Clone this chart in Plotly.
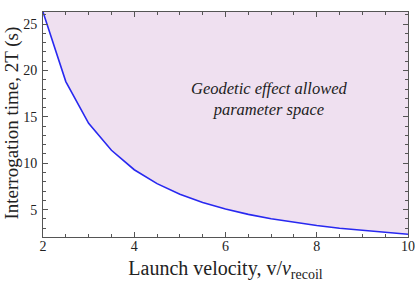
import plotly.graph_objects as go

velocity = [2, 2.5, 3, 3.5, 4, 4.5, 5, 5.5, 6, 6.5, 7, 7.5, 8, 8.5, 9, 9.5, 10]
interrogation_time = [26.3, 18.8, 14.3, 11.4, 9.3, 7.8, 6.65, 5.77, 5.06, 4.49,
                      4.02, 3.62, 3.29, 3.00, 2.76, 2.54, 2.35]
y_top = 26.3
top_line = [y_top] * len(velocity)

x_ticks = [2, 4, 6, 8, 10]
y_ticks = [5, 10, 15, 20, 25]

FONT = "Liberation Serif"
FRAME = "#555555"
TXT = "#222222"

fig = go.Figure()
fig.add_trace(go.Scatter(x=velocity, y=interrogation_time, mode="lines",
                         line=dict(color="rgba(0,0,0,0)", width=0), showlegend=False,
                         hoverinfo="skip"))
fig.add_trace(go.Scatter(x=velocity, y=top_line, mode="lines",
                         line=dict(color="rgba(0,0,0,0)", width=0),
                         fill="tonexty", fillcolor="#EFE0F0", showlegend=False,
                         hoverinfo="skip"))
fig.add_trace(go.Scatter(x=velocity, y=interrogation_time, mode="lines",
                         line=dict(color="#2828F0", width=1.6), showlegend=False))

fig.add_annotation(x=6.97, y=16.9, xref="x", yref="y",
                   text="<i>Geodetic effect allowed</i><br><i>parameter space</i>",
                   showarrow=False, font=dict(family=FONT, size=16.5, color=TXT),
                   align="center")

# y-axis title placed as a rotated annotation
fig.add_annotation(x=0, y=0.5, xref="paper", yref="paper", xshift=-32, yshift=1,
                   text="Interrogation time, 2T (s)", textangle=-90,
                   showarrow=False, xanchor="center", yanchor="middle",
                   font=dict(family=FONT, size=19, color=TXT))

axis_common = dict(showgrid=False, zeroline=False, showline=True, linecolor=FRAME,
                   linewidth=1, mirror="ticks", ticks="inside", ticklen=5,
                   tickcolor=FRAME, ticklabeloverflow="allow", automargin=False,
                   tickfont=dict(family=FONT, size=14, color=TXT))

fig.update_layout(
    width=415, height=289,
    margin=dict(l=43, r=7, t=12, b=52),
    paper_bgcolor="white", plot_bgcolor="white",
    xaxis=dict(range=[2, 10], tickvals=x_ticks, ticklabelstandoff=-4,
               minor=dict(ticks="inside", dtick=0.5, ticklen=3, tickcolor=FRAME),
               title=dict(text="Launch velocity, v/<i>ν</i><sub>recoil</sub>",
                          font=dict(family=FONT, size=20, color=TXT), standoff=8),
               **axis_common),
    yaxis=dict(range=[2.05, y_top], tickvals=y_ticks, ticklabelstandoff=2,
               minor=dict(ticks="inside", dtick=1, ticklen=3, tickcolor=FRAME),
               **axis_common),
)

fig.write_html("out.html", config={"displayModeBar": False},
               post_script="document.body.style.margin='0px';")
